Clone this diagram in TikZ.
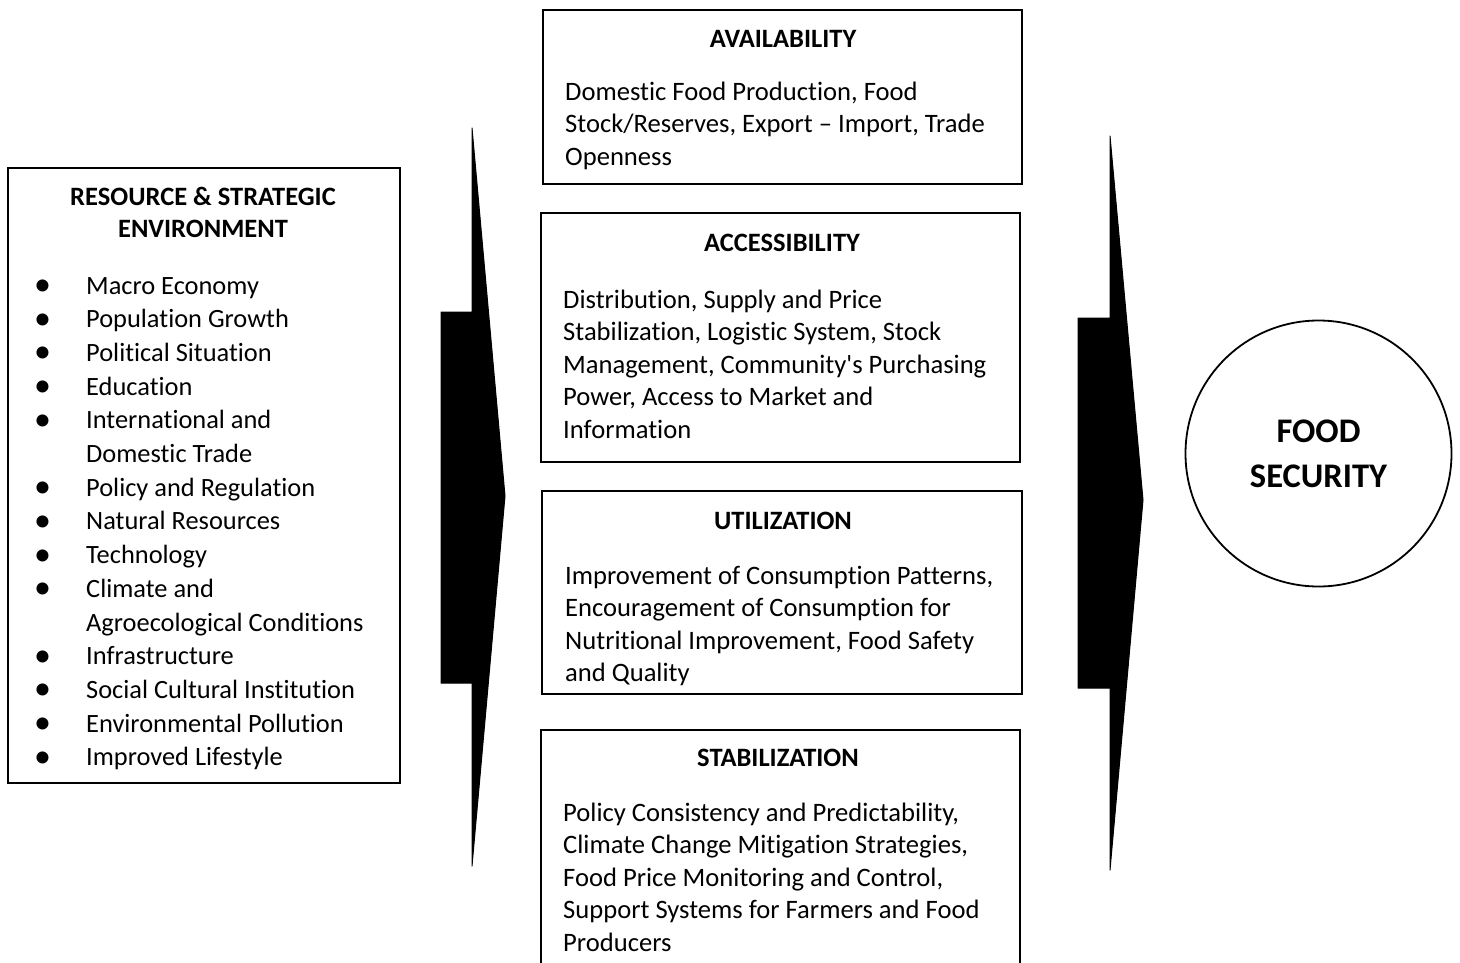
\documentclass[tikz,border=0pt]{standalone}
\usepackage{fontspec}
\defaultfontfeatures[\rmfamily]{}
\setmainfont{Carlito}[Ligatures=NoCommon]
\newcommand{\blt}{\makebox[48pt][l]{\hspace*{-4pt}\raisebox{-1.5pt}{\fontsize{34}{34}\selectfont •}}}
\begin{document}
\begin{tikzpicture}[x=1pt,y=-1pt,
  frame/.style={draw=black, line width=1.8pt, fill=white, inner sep=0pt},
  head/.style={font=\bfseries\fontsize{26.5}{32}\selectfont, align=center, inner sep=0pt, anchor=base},
  body/.style={font=\fontsize{26.6}{32.5}\selectfont, align=left, inner sep=0pt, anchor=north west},
  listbody/.style={body, font=\fontsize{26.4}{33.7}\selectfont},
  bigarrow/.style={fill=black, draw=black, line width=1pt, line join=round},
  goal/.style={circle, draw=black, line width=1.8pt, minimum size=266pt, inner sep=0pt,
    font=\bfseries\fontsize{34.5}{45}\selectfont, align=center}]
\useasboundingbox (0,0) rectangle (1460,962);
\clip (0,0) rectangle (1460,962);

% left: resource and strategic environment
\node[frame, minimum width=392pt, minimum height=615pt] (env) at (204,475.5) {};
\node[head] (envtitle) at (203,237) {RESOURCE \& STRATEGIC\\ENVIRONMENT};
\node[listbody] (envlist) at (38,270.25) {\strut
\blt Macro Economy\\
\blt Population Growth\\
\blt Political Situation\\
\blt Education\\
\blt International and\\
\hspace*{48pt}Domestic Trade\\
\blt Policy and Regulation\\
\blt Natural Resources\\
\blt Technology\\
\blt Climate and\\
\hspace*{48pt}Agroecological Conditions\\
\blt Infrastructure\\
\blt Social Cultural Institution\\
\blt Environmental Pollution\\
\blt Improved Lifestyle};

% the four pillars
\node[frame, minimum width=479pt, minimum height=174pt] (avail) at (782.5,97) {};
\node[head] (availtitle) at (783,47) {AVAILABILITY};
\node[body] (availtext) at (565,77.25) {\strut Domestic Food Production, Food\\
Stock/Reserves, Export – Import, Trade\\
Openness};

\node[frame, minimum width=479pt, minimum height=249pt] (access) at (780.5,337.5) {};
\node[head] (accesstitle) at (782,251) {ACCESSIBILITY};
\node[body] (accesstext) at (563,285.25) {\strut Distribution, Supply and Price\\
Stabilization, Logistic System, Stock\\
Management, Community's Purchasing\\
Power, Access to Market and\\
Information};

\node[frame, minimum width=480pt, minimum height=203pt] (util) at (782,592.5) {};
\node[head] (utiltitle) at (783,529) {UTILIZATION};
\node[body] (utiltext) at (565,561.25) {\strut Improvement of Consumption Patterns,\\
Encouragement of Consumption for\\
Nutritional Improvement, Food Safety\\
and Quality};

\node[frame, minimum width=479pt, minimum height=270pt] (stab) at (780.5,865) {};
\node[head] (stabtitle) at (778,766) {STABILIZATION};
\node[body] (stabtext) at (563,798.25) {\strut Policy Consistency and Predictability,\\
Climate Change Mitigation Strategies,\\
Food Price Monitoring and Control,\\
Support Systems for Farmers and Food\\
Producers};

% outcome
\node[goal] (food) at (1318.5,453.5) {FOOD\\SECURITY};

% block arrows
\fill[bigarrow] (472,128) -- (505,496) -- (472,866) -- (472,683) -- (441,683)
  -- (441,312) -- (472,312) -- cycle;
\fill[bigarrow] (1110,136) -- (1143,500) -- (1110,870) -- (1110,688) -- (1078,688)
  -- (1078,318) -- (1110,318) -- cycle;
\end{tikzpicture}
\end{document}
